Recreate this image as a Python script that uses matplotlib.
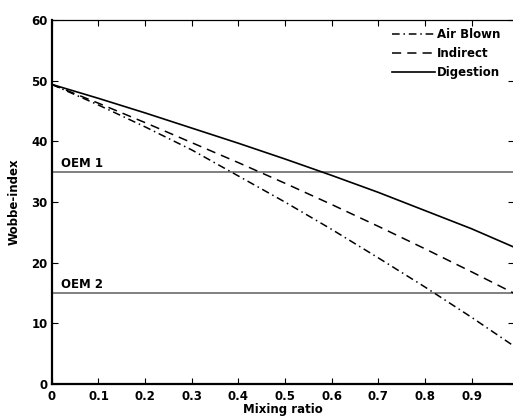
import matplotlib
matplotlib.use("Agg")
import matplotlib.pyplot as plt

mix = [0.0, 0.1, 0.2, 0.3, 0.4, 0.5, 0.6, 0.7, 0.8, 0.9, 0.99]
air_blown = [49.4, 46.0, 42.4, 38.6, 34.3, 30.0, 25.5, 20.8, 16.0, 11.0, 6.3]
indirect = [49.4, 46.3, 43.1, 39.8, 36.5, 33.1, 29.6, 26.0, 22.3, 18.5, 15.0]
digestion = [49.4, 47.1, 44.7, 42.2, 39.7, 37.1, 34.4, 31.6, 28.6, 25.6, 22.6]
oem_levels = [35, 15]
oem_labels = ["OEM 1", "OEM 2"]
xticks = [0, 0.1, 0.2, 0.3, 0.4, 0.5, 0.6, 0.7, 0.8, 0.9]
xticklabels = ["0", "0.1", "0.2", "0.3", "0.4", "0.5", "0.6", "0.7", "0.8", "0.9"]
yticks = [0, 10, 20, 30, 40, 50, 60]

plt.rcParams['font.family'] = ['DejaVu Sans']
plt.rcParams['font.weight'] = 'bold'

fs = 8.5

fig = plt.figure(figsize=(5.13, 4.19), dpi=100)
ax = fig.add_axes([0.101, 0.0835, 0.9, 0.8685])

for lvl, lab in zip(oem_levels, oem_labels):
    ax.axhline(lvl, color='#808080', lw=1.4, zorder=1)
    ax.text(0.02, lvl + 0.3, lab, fontsize=fs, fontweight='bold', va='bottom', ha='left')

ax.plot(mix, air_blown, color='black', lw=1.1, linestyle=(0, (5, 2.5, 1, 2.5)), label='Air Blown')
ax.plot(mix, indirect, color='black', lw=1.1, linestyle=(0, (6, 4)), label='Indirect')
ax.plot(mix, digestion, color='black', lw=1.2, linestyle='-', label='Digestion')

ax.set_xlim(0, 0.99)
ax.set_ylim(0, 60)
ax.set_xticks(xticks)
ax.set_xticklabels(xticklabels)
ax.set_yticks(yticks)
ax.tick_params(direction='in', length=4, width=0.8, top=True, right=True, labelsize=fs)
ax.tick_params(axis='x', pad=4)
ax.tick_params(axis='y', pad=3)
for lbl in ax.get_xticklabels() + ax.get_yticklabels():
    lbl.set_fontweight('bold')

ax.spines['left'].set_linewidth(1.6)
ax.spines['bottom'].set_linewidth(1.6)
ax.spines['top'].set_linewidth(0.9)
ax.spines['right'].set_linewidth(0.9)

ax.set_xlabel('Mixing ratio', fontsize=fs, fontweight='bold', labelpad=0.5)
ax.set_ylabel('Wobbe-index', fontsize=fs, fontweight='bold', labelpad=8)

leg = ax.legend(loc='upper right', frameon=False, fontsize=fs, handlelength=3.6,
                handletextpad=0.2, labelspacing=0.5, borderaxespad=0.3,
                bbox_to_anchor=(0.99, 1.0))
for t in leg.get_texts():
    t.set_fontweight('bold')

fig.savefig('out.png', dpi=100)
